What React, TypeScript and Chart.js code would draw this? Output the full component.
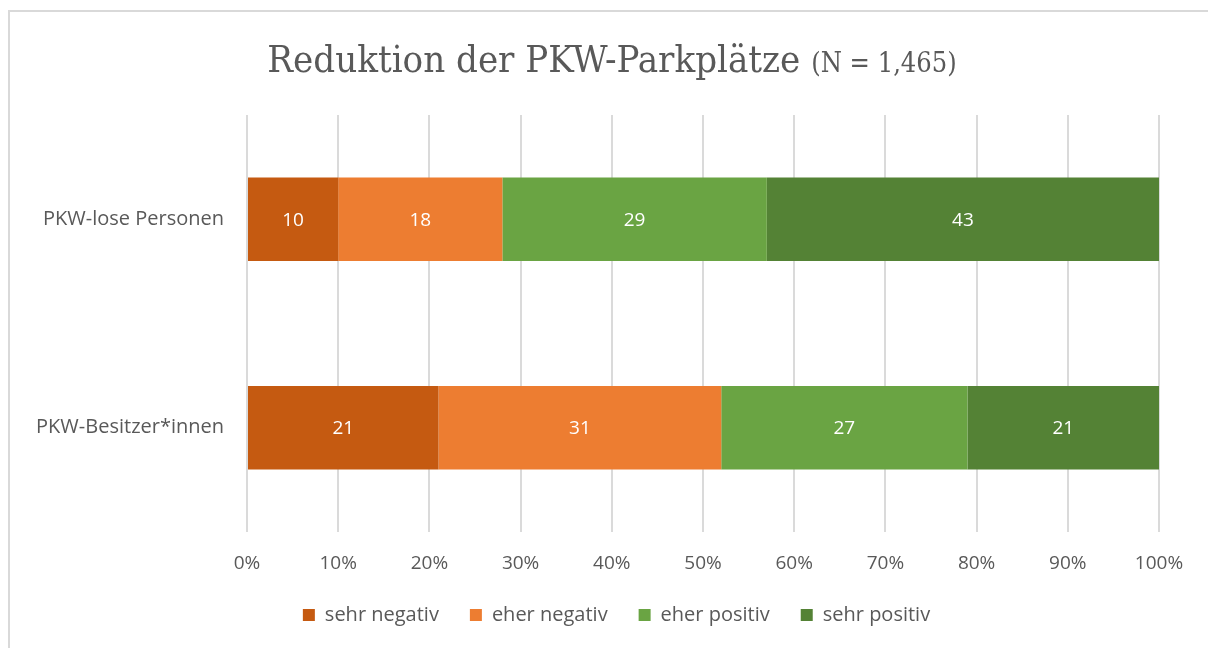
import React, { useEffect, useRef } from "react";
import { Chart, registerables } from "chart.js";

Chart.register(...registerables);

const categories = ["PKW-lose Personen", "PKW-Besitzer*innen"];
const seriesNames = ["sehr negativ", "eher negativ", "eher positiv", "sehr positiv"];
const sehrNegativ = [10, 21];
const eherNegativ = [18, 31];
const eherPositiv = [29, 27];
const sehrPositiv = [43, 21];
const seriesColors = ["#C55A11", "#ED7D31", "#6AA443", "#548235"];
const xTickValues = [0, 10, 20, 30, 40, 50, 60, 70, 80, 90, 100];
const titleMain = "Reduktion der PKW-Parkplätze";
const titleSub = "(N = 1,465)";

const TEXT = "#595959";
const BODY_FONT = '"Open Sans", "Noto Sans", sans-serif';
const TITLE_FONT = '"DejaVu Serif Condensed", "DejaVu Serif", serif';

const titlePlugin = {
  id: "customTitle",
  afterDraw(chart: any) {
    const ctx = chart.ctx;
    ctx.save();
    ctx.fillStyle = TEXT;
    ctx.textBaseline = "alphabetic";
    ctx.textAlign = "left";
    const bigFont = `normal 38px ${TITLE_FONT}`;
    const smallFont = `normal 27px ${TITLE_FONT}`;
    ctx.font = bigFont;
    const w1 = ctx.measureText(titleMain + " ").width;
    ctx.font = smallFont;
    const w2 = ctx.measureText(titleSub).width;
    const total = w1 + w2;
    const cx = 602;
    const x0 = cx - total / 2;
    const baseY = 60;
    ctx.font = bigFont;
    ctx.fillText(titleMain + " ", x0, baseY);
    ctx.font = smallFont;
    ctx.fillText(titleSub, x0 + w1, baseY);
    ctx.restore();
  },
};

const valueLabelPlugin = {
  id: "valueLabels",
  afterDatasetsDraw(chart: any) {
    const ctx = chart.ctx;
    ctx.save();
    ctx.fillStyle = "#ffffff";
    ctx.font = `normal 19px ${BODY_FONT}`;
    ctx.textAlign = "center";
    ctx.textBaseline = "middle";
    chart.data.datasets.forEach((ds: any, di: number) => {
      const meta = chart.getDatasetMeta(di);
      if (meta.hidden) return;
      meta.data.forEach((el: any, i: number) => {
        const v = ds.data[i];
        const x = (el.x + el.base) / 2;
        ctx.fillText(String(v), x, el.y + 1);
      });
    });
    ctx.restore();
  },
};

const legendShiftPlugin = {
  id: "legendShift",
  afterLayout(chart: any) {
    const lg = chart.legend;
    if (!lg) return;
    const dx = 32;
    const dy = -6;
    lg.left += dx;
    lg.right += dx;
    lg.top += dy;
    lg.bottom += dy;
  },
};

export default function App() {
  const ref = useRef<HTMLCanvasElement | null>(null);

  useEffect(() => {
    if (!ref.current) return;
    const seriesData = [sehrNegativ, eherNegativ, eherPositiv, sehrPositiv];
    const chart = new Chart(ref.current, {
      type: "bar",
      data: {
        labels: categories,
        datasets: seriesNames.map((name, i) => ({
          label: name,
          data: seriesData[i],
          backgroundColor: seriesColors[i],
          borderWidth: 0,
          barPercentage: 0.4,
          categoryPercentage: 1,
        })),
      },
      options: {
        indexAxis: "y",
        animation: false,
        responsive: false,
        devicePixelRatio: 1,
        layout: { padding: { top: 103, right: 49, bottom: 7, left: 0 } },
        scales: {
          x: {
            stacked: true,
            min: 0,
            max: 100,
            afterBuildTicks(scale: any) {
              scale.ticks = xTickValues.map((v) => ({ value: v }));
            },
            afterFit(scale: any) {
              scale.height = 48;
            },
            grid: { color: "#dadada", lineWidth: 2, drawTicks: false },
            border: { display: false },
            ticks: {
              color: TEXT,
              font: { family: BODY_FONT, size: 19 },
              padding: 20,
              maxRotation: 0,
              callback: (v: any) => `${v}%`,
            },
          },
          y: {
            stacked: true,
            afterFit(scale: any) {
              scale.width = 237;
            },
            grid: { display: false },
            border: { display: false },
            ticks: {
              color: TEXT,
              font: { family: BODY_FONT, size: 20 },
              padding: 15,
            },
          },
        },
        plugins: {
          title: { display: false },
          tooltip: { enabled: false },
          legend: {
            position: "bottom",
            labels: {
              color: TEXT,
              boxWidth: 12,
              boxHeight: 12,
              padding: 31,
              font: { family: BODY_FONT, size: 20 },
            },
          },
        },
      },
      plugins: [titlePlugin, valueLabelPlugin, legendShiftPlugin],
    });
    return () => chart.destroy();
  }, []);

  return (
    <div
      style={{
        position: "fixed",
        left: 8,
        top: 10,
        width: 1200,
        height: 638,
        boxSizing: "border-box",
        borderTop: "2px solid #d9d9d9",
        borderLeft: "2px solid #d9d9d9",
        background: "#ffffff",
        overflow: "hidden",
      }}
    >
      <canvas ref={ref} width={1198} height={636} style={{ display: "block" }} />
    </div>
  );
}
